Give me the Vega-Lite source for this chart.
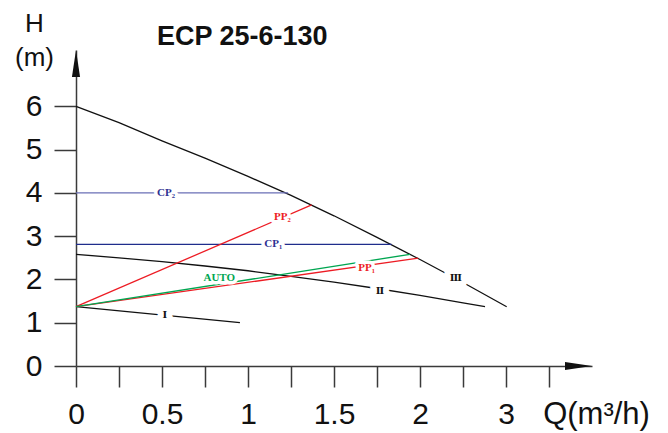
{
  "$schema": "https://vega.github.io/schema/vega-lite/v6.json",
  "autosize": {"type": "none"},
  "padding": {"left": 76, "top": 50, "right": 76, "bottom": 67},
  "width": 516,
  "height": 316,
  "background": "white",
  "title": {
    "text": "ECP 25-6-130",
    "anchor": "start",
    "frame": "group",
    "dx": 81,
    "dy": 70,
    "offset": 8,
    "baseline": "alphabetic",
    "font": "Liberation Sans",
    "fontSize": 27,
    "fontWeight": "bold",
    "color": "#111111"
  },
  "config": {
    "view": {"stroke": null},
    "axis": {
      "grid": false,
      "domainColor": "#3a3a3a",
      "domainWidth": 1.5,
      "tickColor": "#3a3a3a",
      "tickWidth": 1.5,
      "labelFont": "Liberation Sans",
      "labelFontSize": 30,
      "labelColor": "#111111",
      "titleFont": "Liberation Sans",
      "titleFontWeight": "normal",
      "titleColor": "#111111",
      "labelOverlap": false,
      "labelFlush": false
    }
  },
  "datasets": {
    "curves": [
      {"curve": "III", "x": 0, "h": 6.0},
      {"curve": "III", "x": 0.25, "h": 5.62},
      {"curve": "III", "x": 0.5, "h": 5.2},
      {"curve": "III", "x": 0.75, "h": 4.8},
      {"curve": "III", "x": 1.0, "h": 4.38},
      {"curve": "III", "x": 1.25, "h": 3.94},
      {"curve": "III", "x": 1.5, "h": 3.47},
      {"curve": "III", "x": 1.75, "h": 2.97},
      {"curve": "III", "x": 2.0, "h": 2.46},
      {"curve": "III", "x": 2.25, "h": 1.93},
      {"curve": "III", "x": 2.504, "h": 1.37},
      {"curve": "II", "x": 0, "h": 2.58},
      {"curve": "II", "x": 0.25, "h": 2.5},
      {"curve": "II", "x": 0.5, "h": 2.41},
      {"curve": "II", "x": 0.75, "h": 2.31},
      {"curve": "II", "x": 1.0, "h": 2.2},
      {"curve": "II", "x": 1.25, "h": 2.07},
      {"curve": "II", "x": 1.5, "h": 1.94},
      {"curve": "II", "x": 1.75, "h": 1.79},
      {"curve": "II", "x": 2.0, "h": 1.63},
      {"curve": "II", "x": 2.25, "h": 1.46},
      {"curve": "II", "x": 2.378, "h": 1.37},
      {"curve": "I", "x": 0, "h": 1.37},
      {"curve": "I", "x": 0.953, "h": 1.0},
      {"curve": "CP2", "x": 0, "h": 4.0},
      {"curve": "CP2", "x": 1.233, "h": 4.0},
      {"curve": "CP1", "x": 0, "h": 2.81},
      {"curve": "CP1", "x": 1.835, "h": 2.81},
      {"curve": "PP2", "x": 0, "h": 1.37},
      {"curve": "PP2", "x": 1.37, "h": 3.72},
      {"curve": "PP1", "x": 0, "h": 1.37},
      {"curve": "PP1", "x": 1.99, "h": 2.49},
      {"curve": "AUTO", "x": 0, "h": 1.37},
      {"curve": "AUTO", "x": 1.942, "h": 2.58}
    ],
    "labels": [
      {"label": "CP₂", "kind": "CP", "x": 0.523, "h": 4.0},
      {"label": "PP₂", "kind": "PP", "x": 1.2, "h": 3.45},
      {"label": "CP₁", "kind": "CP", "x": 1.147, "h": 2.81},
      {"label": "AUTO", "kind": "AUTO", "x": 0.833, "h": 2.03},
      {"label": "PP₁", "kind": "PP", "x": 1.69, "h": 2.27}
    ],
    "roman": [
      {"label": "Ⅰ", "x": 0.517, "h": 1.18},
      {"label": "Ⅱ", "x": 1.767, "h": 1.74},
      {"label": "Ⅲ", "x": 2.209, "h": 2.04}
    ],
    "xarrow": [{"x": 3.0, "h": 0}],
    "yarrow": [{"x": 0, "h": 7.3}]
  },
  "layer": [
    {
      "data": {"name": "curves"},
      "mark": {"type": "line", "strokeWidth": 1.3, "clip": false},
      "encoding": {
        "x": {
          "field": "x", "type": "quantitative",
          "scale": {"domain": [0, 3], "nice": false, "zero": false},
          "axis": {
            "values": [0, 0.25, 0.5, 0.75, 1, 1.25, 1.5, 1.75, 2, 2.25, 2.5, 2.75],
            "labelExpr": "datum.value == 2.5 ? '3' : (indexof([0, 0.5, 1, 1.5, 2], datum.value) >= 0 ? '' + datum.value : '')",
            "tickSize": 21,
            "labelPadding": 36,
            "labelBaseline": "alphabetic",
            "labelAlign": "center",
            "title": "Q(m³/h)",
            "titleFontSize": 31,
            "titleAngle": 0,
            "titleX": 520,
            "titleY": 57,
            "titleAlign": "center",
            "titleBaseline": "alphabetic"
          }
        },
        "y": {
          "field": "h", "type": "quantitative",
          "scale": {"domain": [0, 7.3], "nice": false, "zero": false},
          "axis": {
            "values": [0, 1, 2, 3, 4, 5, 6],
            "tickSize": 22,
            "labelPadding": 12,
            "labelAlign": "right",
            "labelBaseline": "middle",
            "title": ["H", "(m)"],
            "titleFontSize": 26,
            "titleLineHeight": 34,
            "titleAngle": 0,
            "titleX": -42,
            "titleY": -19,
            "titleAlign": "center",
            "titleBaseline": "alphabetic"
          }
        },
        "detail": {"field": "curve"},
        "color": {
          "field": "curve", "type": "nominal", "legend": null,
          "scale": {
            "domain": ["I", "II", "III", "CP1", "CP2", "PP1", "PP2", "AUTO"],
            "range": ["#111111", "#111111", "#111111", "#1f2d8c", "#6a6fb6", "#ed1c24", "#ed1c24", "#00a651"]
          }
        }
      }
    },
    {
      "data": {"name": "labels"},
      "mark": {"type": "text", "font": "Liberation Serif", "fontWeight": "bold", "fontSize": 11, "align": "center", "baseline": "middle", "fill": "white", "stroke": "white", "strokeWidth": 7, "strokeJoin": "round"},
      "encoding": {
        "x": {"field": "x", "type": "quantitative"},
        "y": {"field": "h", "type": "quantitative"},
        "text": {"field": "label"}
      }
    },
    {
      "data": {"name": "roman"},
      "mark": {"type": "text", "font": "DejaVu Serif", "fontWeight": "bold", "fontSize": 10, "align": "center", "baseline": "middle", "fill": "white", "stroke": "white", "strokeWidth": 12, "strokeJoin": "round"},
      "encoding": {
        "x": {"field": "x", "type": "quantitative"},
        "y": {"field": "h", "type": "quantitative"},
        "text": {"field": "label"}
      }
    },
    {
      "data": {"name": "labels"},
      "mark": {"type": "text", "font": "Liberation Serif", "fontWeight": "bold", "fontSize": 11, "align": "center", "baseline": "middle"},
      "encoding": {
        "x": {"field": "x", "type": "quantitative"},
        "y": {"field": "h", "type": "quantitative"},
        "text": {"field": "label"},
        "color": {
          "field": "kind", "type": "nominal", "legend": null,
          "scale": {"domain": ["CP", "PP", "AUTO"], "range": ["#2e3192", "#ed1c24", "#00a651"]}
        }
      }
    },
    {
      "data": {"name": "roman"},
      "mark": {"type": "text", "font": "DejaVu Serif", "fontWeight": "bold", "fontSize": 10, "align": "center", "baseline": "middle", "color": "#111111"},
      "encoding": {
        "x": {"field": "x", "type": "quantitative"},
        "y": {"field": "h", "type": "quantitative"},
        "text": {"field": "label"}
      }
    },
    {
      "data": {"name": "xarrow"},
      "mark": {"type": "point", "shape": "M0,0L-2,-0.3L-2,0.3Z", "size": 729, "filled": true, "color": "#111111", "opacity": 1, "strokeWidth": 0, "clip": false},
      "encoding": {
        "x": {"field": "x", "type": "quantitative"},
        "y": {"field": "h", "type": "quantitative"}
      }
    },
    {
      "data": {"name": "yarrow"},
      "mark": {"type": "point", "shape": "M0,0L-0.3,2L0.3,2Z", "size": 729, "filled": true, "color": "#111111", "opacity": 1, "strokeWidth": 0, "clip": false},
      "encoding": {
        "x": {"field": "x", "type": "quantitative"},
        "y": {"field": "h", "type": "quantitative"}
      }
    }
  ],
  "resolve": {"scale": {"color": "independent"}}
}
